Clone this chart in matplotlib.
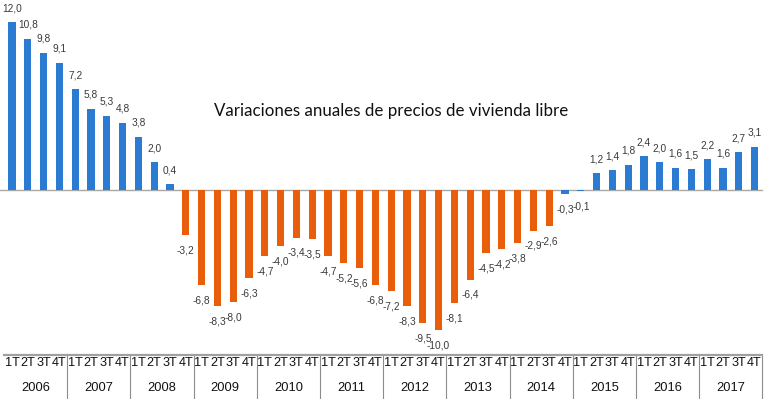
import matplotlib
matplotlib.use("Agg")
import matplotlib.pyplot as plt
import matplotlib.transforms as mtransforms
from matplotlib import font_manager

years = ["2006", "2007", "2008", "2009", "2010", "2011",
         "2012", "2013", "2014", "2015", "2016", "2017"]
quarters = ["1T", "2T", "3T", "4T"]
values = [12.0, 10.8, 9.8, 9.1,
          7.2, 5.8, 5.3, 4.8,
          3.8, 2.0, 0.4, -3.2,
          -6.8, -8.3, -8.0, -6.3,
          -4.7, -4.0, -3.4, -3.5,
          -4.7, -5.2, -5.6, -6.8,
          -7.2, -8.3, -9.5, -10.0,
          -8.1, -6.4, -4.5, -4.2,
          -3.8, -2.9, -2.6, -0.3,
          -0.1, 1.2, 1.4, 1.8,
          2.4, 2.0, 1.6, 1.5,
          2.2, 1.6, 2.7, 3.1]
# quarters of the downturn highlighted in orange (first, last index)
downturn = (11, 34)
title = "Variaciones anuales de precios de vivienda libre"

BLUE = "#2b7bd3"
ORANGE = "#e85e0b"

names = {f.name for f in font_manager.fontManager.ttflist}
narrow = "Liberation Sans Narrow" if "Liberation Sans Narrow" in names else "Liberation Sans"

W, H = 770, 399
fig = plt.figure(figsize=(W / 100, H / 100), dpi=100)
left_px, right_px, top_px, axis_px, zero_px = 4.1, 762.5, 0, 355, 190
ax = fig.add_axes([left_px / W, (H - axis_px) / H, (right_px - left_px) / W, (axis_px - top_px) / H])
scale = 14.0
ax.set_ylim(-(axis_px - zero_px) / scale, (zero_px - top_px) / scale)
n = len(values)
ax.set_xlim(-0.5, n - 0.5)

x = list(range(n))
colors = [ORANGE if downturn[0] <= i <= downturn[1] else BLUE for i in x]
ax.bar(x, values, width=0.45, color=colors, zorder=3)
ax.axhline(0, color="#a8a8a8", lw=1.0, zorder=2, xmin=-0.01, clip_on=False)

for i, v in enumerate(values):
    lab = f"{v:.1f}".replace(".", ",")
    off = 10 if v >= 0 else -11
    ax.annotate(lab, (i, v), xytext=(0, off), textcoords="offset points",
                ha="center", va="center", fontsize=7.3, color="#3a3a3a",
                family="Liberation Sans", zorder=4)

for s in ["top", "right", "left"]:
    ax.spines[s].set_visible(False)
ax.spines["bottom"].set_color("#a0a0a0")
ax.spines["bottom"].set_linewidth(1.6)
ax.set_yticks([])
ax.set_xticks(x)
ax.set_xticklabels([quarters[i % 4] for i in x], fontsize=9.2,
                   family=narrow, color="#111111")
ax.tick_params(axis="x", length=0, pad=1.5)

trans = mtransforms.blended_transform_factory(ax.transData, ax.transAxes)
ypx = 1.0 / (axis_px - top_px)
for k, yr in enumerate(years):
    ax.text(4 * k + 1.5, -33 * ypx, yr, transform=trans, ha="center", va="center",
            fontsize=9.3, family=narrow, color="#111111")
for k in range(1, len(years) + 1):
    xb = 4 * k - 0.5
    ax.plot([xb, xb], [0, -44 * ypx], transform=trans, color="#8c8c8c",
            lw=0.8, clip_on=False)

fig.text(391 / W, 1 - 111 / H, title, ha="center", va="center", fontsize=12.2,
         family="Lato", color="#111111")

fig.savefig("out.png", dpi=100)
